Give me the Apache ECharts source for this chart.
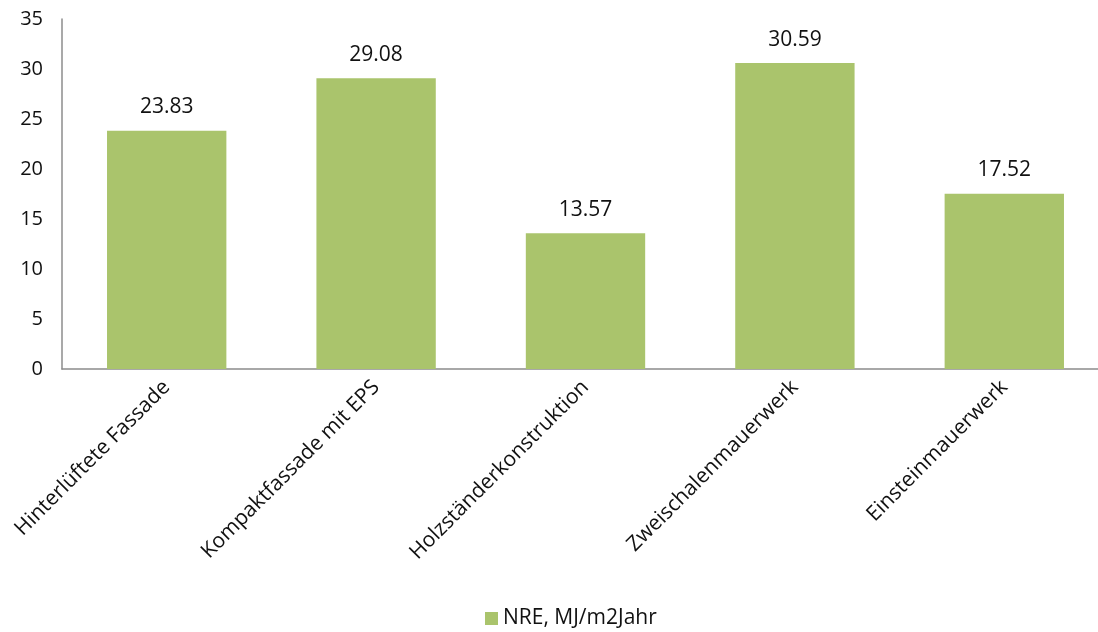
<!DOCTYPE html>
<html>
<head>
<meta charset="utf-8">
<script src="https://cdn.jsdelivr.net/npm/echarts@6/dist/echarts.min.js"></script>
<style>
  html, body { margin: 0; padding: 0; background: #ffffff; }
  #chart { width: 1098px; height: 632px; }
</style>
</head>
<body>
<div id="chart"></div>
<script>
// Wall constructions and their non-renewable primary energy
const categories = [
  'Hinterlüftete Fassade',
  'Kompaktfassade mit EPS',
  'Holzständerkonstruktion',
  'Zweischalenmauerwerk',
  'Einsteinmauerwerk'
];
const nreValues = [23.83, 29.08, 13.57, 30.59, 17.52];
const seriesName = 'NRE, MJ/m2Jahr';

const FONT = '"Open Sans", "Liberation Sans", sans-serif';
const chart = echarts.init(document.getElementById('chart'), null, { renderer: 'canvas' });

chart.setOption({
  backgroundColor: '#ffffff',
  animation: false,
  grid: {
    left: 62,
    top: 19,
    width: 1047,
    height: 350,
    containLabel: false,
    outerBoundsMode: 'none'
  },
  legend: {
    top: 603,
    left: 480,
    itemWidth: 13,
    itemHeight: 13,
    icon: 'rect',
    itemGap: 6,
    textStyle: { fontFamily: FONT, fontSize: 21, color: '#111111' },
    data: [seriesName]
  },
  xAxis: {
    type: 'category',
    data: categories,
    axisLine: { show: true, lineStyle: { color: '#8c8c8c', width: 1.5 } },
    axisTick: { show: false },
    axisLabel: {
      rotate: 45,
      interval: 0,
      margin: 15,
      fontFamily: FONT,
      fontSize: 21,
      color: '#111111'
    }
  },
  yAxis: {
    type: 'value',
    min: 0,
    max: 35,
    interval: 5,
    axisLine: { show: true, lineStyle: { color: '#8c8c8c', width: 1.5 } },
    axisTick: { show: false },
    splitLine: { show: false },
    axisLabel: {
      margin: 19,
      fontFamily: FONT,
      fontSize: 20,
      color: '#111111'
    }
  },
  series: [{
    name: seriesName,
    type: 'bar',
    data: nreValues,
    barWidth: '57%',
    itemStyle: { color: '#aac46c' },
    label: {
      show: true,
      position: 'top',
      distance: 13,
      fontFamily: FONT,
      fontSize: 21,
      color: '#111111',
      formatter: p => p.value.toFixed(2)
    }
  }]
});
</script>
</body>
</html>
